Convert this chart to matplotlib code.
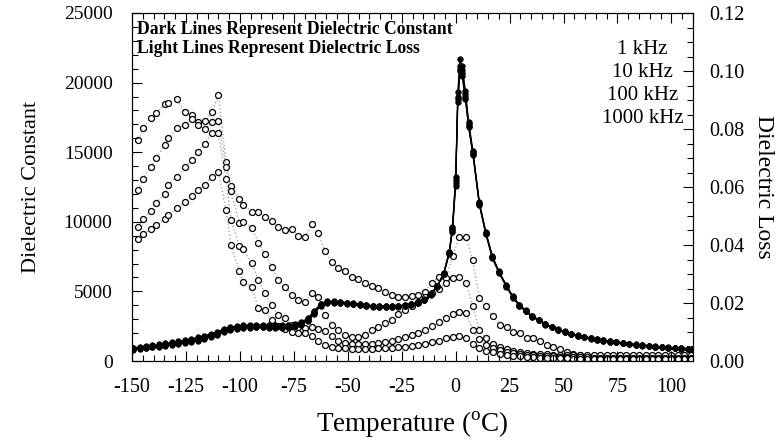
import matplotlib
matplotlib.use("Agg")
import matplotlib.pyplot as plt
from matplotlib.ticker import MultipleLocator

plt.rcParams['font.family'] = ['Liberation Serif', 'DejaVu Serif']
plt.rcParams['mathtext.fontset'] = 'custom'
plt.rcParams['mathtext.rm'] = 'Liberation Serif'

# ---------------- data ----------------
freq_labels = ["1 kHz", "10 kHz", "100 kHz", "1000 kHz"]

eps_temps = [-149.5, -146.5, -143.5, -140.5, -137.5, -134.5, -131.5, -128.5, -125.5, -122.5,
             -119.5, -116.5, -113.5, -110.5, -107.5, -104.5, -101.5, -98.5, -95.5, -92.5,
             -89.5, -86.5, -83.5, -80.5, -77.5, -74.5, -71.5, -68.5, -65.5, -62.5,
             -59.5, -56.5, -53.5, -50.5, -47.5, -44.5, -41.5, -38.5, -35.5, -32.5,
             -29.5, -26.5, -23.5, -20.5, -17.5, -14.5, -11.5, -8.5, -5.5, -3.0,
             -1.5, 0.0, 1.0, 2.0, 3.0, 4.5, 6.0, 8.0, 11.0, 14.0,
             17.0, 20.0, 23.5, 26.5, 29.5, 32.5, 35.5, 38.5, 41.5, 44.5,
             47.5, 50.5, 53.5, 56.5, 59.5, 62.5, 65.5, 68.5, 71.5, 74.5,
             77.5, 80.5, 83.5, 86.5, 89.5, 92.5, 95.5, 98.5, 101.5, 104.5,
             107.5, 109.5]

eps_1k = [950, 1000, 1060, 1120, 1190, 1260, 1330, 1410, 1490, 1580,
          1690, 1810, 1950, 2110, 2280, 2420, 2510, 2560, 2580, 2590,
          2590, 2580, 2570, 2570, 2600, 2670, 2810, 3080, 3620, 4120,
          4290, 4290, 4250, 4200, 4140, 4080, 4020, 3980, 3950, 3940,
          3950, 3980, 4020, 4100, 4220, 4420, 4820, 5420, 6320, 7850,
          9600, 13200, 19300, 21700, 21200, 19400, 17200, 15100, 11400, 9250,
          7550, 6450, 5450, 4650, 4050, 3640, 3240, 2980, 2680, 2470,
          2270, 2120, 1970, 1840, 1740, 1650, 1570, 1500, 1430, 1370,
          1310, 1250, 1200, 1150, 1100, 1060, 1020, 980, 950, 920,
          890, 870]

eps_10k = [900, 950, 1010, 1070, 1130, 1190, 1260, 1330, 1410, 1500,
           1610, 1730, 1870, 2030, 2200, 2340, 2440, 2490, 2510, 2520,
           2520, 2510, 2500, 2500, 2530, 2600, 2740, 3000, 3550, 4080,
           4260, 4260, 4230, 4180, 4120, 4060, 4000, 3960, 3930, 3920,
           3930, 3960, 4000, 4080, 4200, 4400, 4800, 5400, 6300, 7800,
           9500, 13000, 19000, 21200, 20900, 19200, 17000, 15000, 11300, 9200,
           7500, 6400, 5400, 4600, 4000, 3600, 3200, 2950, 2650, 2450,
           2250, 2100, 1950, 1820, 1720, 1630, 1550, 1480, 1410, 1350,
           1290, 1230, 1180, 1130, 1080, 1040, 1000, 960, 930, 900,
           870, 850]

eps_100k = [850, 900, 960, 1020, 1080, 1140, 1200, 1270, 1350, 1430,
            1540, 1660, 1800, 1960, 2130, 2270, 2370, 2430, 2450, 2460,
            2460, 2450, 2440, 2440, 2470, 2540, 2680, 2930, 3480, 4040,
            4230, 4230, 4200, 4160, 4100, 4040, 3980, 3940, 3910, 3900,
            3910, 3940, 3980, 4060, 4180, 4380, 4780, 5380, 6270, 7750,
            9400, 12800, 18800, 21000, 20700, 19000, 16900, 14900, 11250, 9150,
            7450, 6380, 5380, 4580, 3980, 3580, 3180, 2930, 2640, 2440,
            2240, 2090, 1940, 1810, 1710, 1620, 1540, 1470, 1400, 1340,
            1280, 1220, 1170, 1120, 1070, 1030, 990, 950, 920, 890,
            860, 840]

eps_1000k = [800, 850, 910, 970, 1030, 1090, 1150, 1220, 1290, 1370,
             1470, 1590, 1730, 1890, 2060, 2200, 2300, 2370, 2400, 2410,
             2410, 2400, 2390, 2390, 2410, 2480, 2620, 2870, 3400, 3980,
             4200, 4200, 4170, 4130, 4070, 4010, 3950, 3910, 3880, 3870,
             3880, 3910, 3950, 4030, 4150, 4350, 4750, 5350, 6230, 7700,
             9300, 12600, 18600, 20800, 20500, 18800, 16800, 14800, 11200, 9100,
             7400, 6350, 5350, 4560, 3960, 3560, 3160, 2910, 2620, 2420,
             2220, 2070, 1920, 1800, 1700, 1610, 1530, 1460, 1390, 1330,
             1270, 1210, 1160, 1110, 1060, 1020, 980, 940, 910, 880,
             850, 830]

loss_temps = [-147.1, -145.0, -141.3, -138.9, -134.7, -133.2, -129.3, -125.4, -122.3, -119.6, -116.0, -113.1,
              -110.0, -106.4, -104.1, -100.3, -98.4, -94.5, -91.5, -88.4, -85.3, -82.2, -79.1, -76.0,
              -72.9, -69.8, -66.7, -63.7, -60.6, -57.5, -54.4, -51.3, -48.2, -45.1, -42.0, -38.9,
              -35.9, -32.8, -29.7, -26.6, -23.5, -20.4, -17.3, -14.2, -11.1, -7.6, -4.5, -1.4,
              1.7, 4.8, 7.9, 11.0, 14.0, 17.1, 20.5, 23.6, 26.6, 29.8, 32.9, 36.0,
              39.0, 42.2, 45.3, 48.4, 51.5, 54.6, 57.7, 60.8, 64.0, 67.0, 70.0, 73.0,
              76.0, 79.0, 82.0, 85.0, 88.0, 91.0, 94.0, 97.0, 100.0, 103.0, 106.0, 109.0]

loss_a = [0.0762, 0.0802, 0.0839, 0.0854, 0.0885, 0.0891, 0.0903, 0.0858, 0.0848, 0.0825, 0.0829, 0.0858,
          0.0917, 0.0687, 0.0603, 0.0559, 0.0538, 0.0515, 0.0515, 0.0496, 0.0484, 0.0463, 0.0452, 0.0454,
          0.0431, 0.0429, 0.0471, 0.0440, 0.0380, 0.0342, 0.0322, 0.0310, 0.0290, 0.0283, 0.0268, 0.0258,
          0.0251, 0.0239, 0.0228, 0.0222, 0.0222, 0.0224, 0.0228, 0.0239, 0.0270, 0.0290, 0.0285, 0.0362,
          0.0427, 0.0429, 0.0348, 0.0216, 0.0190, 0.0155, 0.0124, 0.0116, 0.0101, 0.0098, 0.0080, 0.0078,
          0.0070, 0.0055, 0.0049, 0.0040, 0.0032, 0.0024, 0.0020, 0.0017, 0.0015, 0.0014, 0.0014, 0.0013,
          0.0013, 0.0013, 0.0012, 0.0013, 0.0012, 0.0013, 0.0012, 0.0013, 0.0012, 0.0013, 0.0013, 0.0012]

loss_b = [0.0590, 0.0627, 0.0668, 0.0699, 0.0745, 0.0768, 0.0802, 0.0814, 0.0833, 0.0814, 0.0799, 0.0825,
          0.0829, 0.0670, 0.0586, 0.0475, 0.0480, 0.0460, 0.0408, 0.0369, 0.0325, 0.0279, 0.0256, 0.0228,
          0.0210, 0.0204, 0.0233, 0.0220, 0.0160, 0.0125, 0.0107, 0.0090, 0.0084, 0.0084, 0.0090, 0.0107,
          0.0118, 0.0130, 0.0141, 0.0162, 0.0176, 0.0190, 0.0205, 0.0220, 0.0235, 0.0250, 0.0270, 0.0285,
          0.0289, 0.0270, 0.0190, 0.0107, 0.0078, 0.0060, 0.0048, 0.0040, 0.0035, 0.0030, 0.0027, 0.0025,
          0.0024, 0.0023, 0.0022, 0.0022, 0.0021, 0.0021, 0.0022, 0.0021, 0.0022, 0.0021, 0.0022, 0.0021,
          0.0022, 0.0021, 0.0022, 0.0022, 0.0021, 0.0022, 0.0022, 0.0021, 0.0022, 0.0022, 0.0021, 0.0022]

loss_c = [0.0463, 0.0489, 0.0517, 0.0546, 0.0576, 0.0607, 0.0636, 0.0668, 0.0693, 0.0722, 0.0747, 0.0787,
          0.0785, 0.0628, 0.0486, 0.0398, 0.0385, 0.0337, 0.0280, 0.0235, 0.0193, 0.0159, 0.0150, 0.0125,
          0.0118, 0.0115, 0.0118, 0.0112, 0.0105, 0.0085, 0.0068, 0.0061, 0.0058, 0.0057, 0.0058, 0.0060,
          0.0062, 0.0066, 0.0070, 0.0076, 0.0082, 0.0090, 0.0098, 0.0108, 0.0120, 0.0135, 0.0150, 0.0163,
          0.0170, 0.0165, 0.0108, 0.0075, 0.0055, 0.0045, 0.0038, 0.0032, 0.0028, 0.0025, 0.0022, 0.0020,
          0.0018, 0.0017, 0.0016, 0.0015, 0.0014, 0.0014, 0.0013, 0.0013, 0.0012, 0.0012, 0.0012, 0.0011,
          0.0011, 0.0011, 0.0010, 0.0010, 0.0010, 0.0010, 0.0009, 0.0009, 0.0009, 0.0009, 0.0009, 0.0009]

loss_d = [0.0420, 0.0438, 0.0454, 0.0469, 0.0489, 0.0503, 0.0527, 0.0548, 0.0569, 0.0590, 0.0607, 0.0636,
          0.0653, 0.0520, 0.0400, 0.0310, 0.0274, 0.0256, 0.0182, 0.0176, 0.0140, 0.0120, 0.0110, 0.0101,
          0.0098, 0.0095, 0.0085, 0.0070, 0.0055, 0.0047, 0.0045, 0.0044, 0.0043, 0.0043, 0.0043, 0.0043,
          0.0044, 0.0045, 0.0046, 0.0048, 0.0050, 0.0053, 0.0056, 0.0060, 0.0065, 0.0070, 0.0078, 0.0083,
          0.0085, 0.0080, 0.0060, 0.0045, 0.0035, 0.0030, 0.0025, 0.0021, 0.0018, 0.0016, 0.0014, 0.0013,
          0.0012, 0.0011, 0.0010, 0.0009, 0.0009, 0.0008, 0.0008, 0.0008, 0.0007, 0.0007, 0.0007, 0.0007,
          0.0007, 0.0006, 0.0006, 0.0006, 0.0006, 0.0006, 0.0006, 0.0006, 0.0006, 0.0006, 0.0006, 0.0006]

x_ticks = [-150, -125, -100, -75, -50, -25, 0, 25, 50, 75, 100]
eps_ticks = [0, 5000, 10000, 15000, 20000, 25000]
loss_ticks = [0.00, 0.02, 0.04, 0.06, 0.08, 0.10, 0.12]

# ---------------- figure ----------------
W, H = 779, 447
fig = plt.figure(figsize=(W / 100, H / 100), dpi=100)
ax = fig.add_axes([132 / W, 1 - 361 / H, (693 - 132) / W, (361 - 13) / H])
ax2 = ax.twinx()

# dielectric loss (light lines, open circles)
for lv in [loss_a, loss_b, loss_c, loss_d]:
    ax2.plot(loss_temps, lv, linestyle=':', color='#a8a8a8', lw=1.0,
             marker='o', markersize=4.3, markerfacecolor='white',
             markeredgecolor='black', markeredgewidth=0.9, zorder=2)

# dielectric constant (dark lines, filled circles)
for ev in [eps_1000k, eps_100k, eps_10k, eps_1k]:
    ax.plot(eps_temps, ev, '-', color='black', lw=0.9,
            marker='o', markersize=4.0, markerfacecolor='black',
            markeredgecolor='black', markeredgewidth=0.5, zorder=3)

ax.set_zorder(ax2.get_zorder() + 1)
ax.patch.set_visible(False)

ax.set_xlim(-150, 110)
ax.set_ylim(0, 25000)
ax2.set_ylim(0, 0.12)

ax.set_xticks(x_ticks)
ax.set_xticklabels([str(v) for v in x_ticks])
ax.xaxis.set_minor_locator(MultipleLocator(5))
ax.set_yticks(eps_ticks)
ax.set_yticklabels([str(v) for v in eps_ticks])
ax.yaxis.set_minor_locator(MultipleLocator(1000))
ax2.set_yticks(loss_ticks)
ax2.set_yticklabels([f"{v:.2f}" for v in loss_ticks])
ax2.yaxis.set_minor_locator(MultipleLocator(0.005))

ax.tick_params(axis='x', which='both', direction='in', top=True, bottom=True)
ax.tick_params(axis='y', which='both', direction='in', left=True, right=False)
ax.tick_params(axis='x', which='major', length=7, width=0.8, labelsize=14.5, pad=12)
ax.tick_params(axis='y', which='major', length=7, width=0.8, labelsize=14, pad=14)
ax.tick_params(which='minor', length=4, width=0.8)
ax2.tick_params(axis='y', which='both', direction='in')
ax2.tick_params(which='major', length=7, width=0.8, labelsize=14.5, pad=12)
ax2.tick_params(which='minor', length=4, width=0.8)

for a in (ax, ax2):
    for s in a.spines.values():
        s.set_linewidth(0.8)

ax.set_xlabel("Temperature ($^{\\rm o}$C)", fontsize=19.5, labelpad=9)
ax.set_ylabel("Dielectric Constant", fontsize=16, labelpad=16)
ax2.set_ylabel("Dielectric Loss", fontsize=17, rotation=-90, labelpad=21)

ax.text(0.009, 0.978, "Dark Lines Represent Dielectric Constant", transform=ax.transAxes,
        fontsize=12.7, fontweight='bold', ha='left', va='top')
ax.text(0.009, 0.923, "Light Lines Represent Dielectric Loss", transform=ax.transAxes,
        fontsize=12.7, fontweight='bold', ha='left', va='top')

for i, lab in enumerate(freq_labels):
    ax.text(0.91, 0.895 - i * 0.066, lab, transform=ax.transAxes,
            fontsize=15, ha='center', va='center')

fig.savefig("out.png", dpi=100)
